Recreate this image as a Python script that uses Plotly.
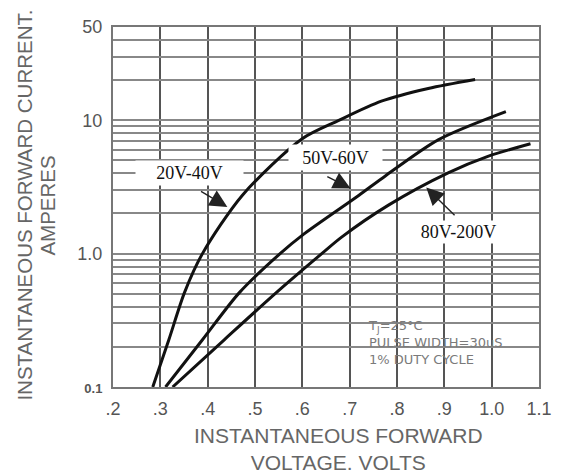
import math
import plotly.graph_objects as go

# ---------------- data ----------------
v_20_40 = [0.284, 0.318, 0.351, 0.389, 0.473, 0.599, 0.677, 0.767, 0.866, 0.965]
i_20_40 = [0.10, 0.226, 0.51, 1.0, 2.73, 7.24, 9.97, 13.9, 17.3, 20.2]

v_50_60 = [0.311, 0.389, 0.467, 0.553, 0.603, 0.719, 0.776, 0.887, 1.030]
i_50_60 = [0.10, 0.226, 0.51, 1.0, 1.40, 2.73, 3.84, 7.13, 11.6]

v_80_200 = [0.326, 0.435, 0.545, 0.641, 0.683, 0.782, 0.908, 0.992, 1.082]
i_80_200 = [0.10, 0.226, 0.51, 1.0, 1.33, 2.31, 4.03, 5.36, 6.66]

series_names = ["20V-40V", "50V-60V", "80V-200V"]

x_tickvals = [0.2, 0.3, 0.4, 0.5, 0.6, 0.7, 0.8, 0.9, 1.0, 1.1]
x_ticktext = [".2", ".3", ".4", ".5", ".6", ".7", ".8", ".9", "1.0", "1.1"]

y_tickvals = [0.1, 0.2, 0.3, 0.4, 0.5, 0.6, 0.7, 0.8, 0.9,
              1, 2, 3, 4, 5, 6, 7, 8, 9,
              10, 20, 30, 40, 50]
y_labelled = {0.1: "<b><span style='font-size:13px'>0.1</span></b>", 1: "1.0", 10: "10", 50: "50"}
y_ticktext = [y_labelled.get(v, "") for v in y_tickvals]

# arrow (tip voltage, tip current, tail voltage, tail current)
arrow_20_40 = (0.4416, 2.24, 0.3828, 2.97)
arrow_50_60 = (0.7021, 3.08, 0.6496, 3.83)
arrow_80_200 = (0.8618, 3.13, 0.9248, 1.89)

# ---------------- figure ----------------
SANS = "Liberation Sans, Arial, sans-serif"
SERIF = "Liberation Serif, Times New Roman, serif"

fig = go.Figure()
for v, i, name in [(v_20_40, i_20_40, series_names[0]),
                   (v_50_60, i_50_60, series_names[1]),
                   (v_80_200, i_80_200, series_names[2])]:
    fig.add_trace(go.Scatter(x=v, y=i, mode="lines", name=name,
                             line=dict(color="#111111", width=3, shape="spline", smoothing=0.8),
                             hoverinfo="skip"))

annotations = []
# curve labels
for text, cx, cy, w, h in [(series_names[0], 0.1787, 0.5945, 107, 24),
                           (series_names[1], 0.5222, 0.6365, 93, 25),
                           (series_names[2], 0.8110, 0.4300, 95, 22)]:
    annotations.append(dict(text=text, xref="paper", yref="paper", x=cx, y=cy,
                            xanchor="center", yanchor="middle", showarrow=False,
                            width=w, height=h, bgcolor="white", borderpad=0,
                            font=dict(family=SERIF, size=18, color="#111111")))
# arrows
for tx, ty, ax, ay in [arrow_20_40, arrow_50_60, arrow_80_200]:
    annotations.append(dict(text="", x=tx, y=math.log10(ty), xref="x", yref="y",
                            ax=ax, ay=math.log10(ay), axref="x", ayref="y",
                            showarrow=True, arrowhead=2, arrowsize=2.5, arrowwidth=1.4,
                            arrowcolor="#222222", standoff=0))
# condition text
annotations.append(dict(text="T<sub>J</sub>=25°C<br>PULSE WIDTH=30uS<br>1% DUTY CYCLE",
                        xref="paper", yref="paper", x=0.5935, y=0.123,
                        xanchor="left", yanchor="middle", align="left", showarrow=False,
                        font=dict(family="DejaVu Sans, sans-serif", size=13, color="#7a7a7a")))
# axis titles
annotations.append(dict(text="INSTANTANEOUS FORWARD<br>VOLTAGE. VOLTS", xref="paper", yref="paper",
                        x=0.530, y=-0.173, xanchor="center", yanchor="middle", showarrow=False,
                        font=dict(family=SANS, size=21, color="#666666")))
annotations.append(dict(text="INSTANTANEOUS FORWARD CURRENT.", xref="paper", yref="paper",
                        x=-0.208, y=0.505, xanchor="center", yanchor="middle", showarrow=False,
                        textangle=-90, font=dict(family=SANS, size=20.5, color="#666666")))
annotations.append(dict(text="AMPERES", xref="paper", yref="paper",
                        x=-0.154, y=0.505, xanchor="center", yanchor="middle", showarrow=False,
                        textangle=-90, font=dict(family=SANS, size=20.5, color="#666666")))

shapes = [dict(type="rect", xref="paper", yref="paper", x0=0.5654, x1=0.986, y0=0.027, y1=0.2,
               fillcolor="white", line=dict(width=0), layer="between")]

# the page adds an 8px body margin, so the figure is 8px smaller than the window
fig.update_layout(
    width=553, height=468,
    margin=dict(l=105, r=20, t=9, b=89),
    paper_bgcolor="white", plot_bgcolor="white",
    showlegend=False,
    annotations=annotations,
    shapes=shapes,
    xaxis=dict(range=[0.2, 1.1], tickvals=x_tickvals, ticktext=x_ticktext,
               showgrid=True, gridcolor="#555555", gridwidth=1.6, zeroline=False,
               showline=True, mirror=True, linecolor="#777777", linewidth=2,
               ticks="", ticklabelstandoff=4,
               tickfont=dict(family=SANS, size=18, color="#555555")),
    yaxis=dict(type="log", range=[-1, math.log10(50)], tickvals=y_tickvals, ticktext=y_ticktext,
               showgrid=True, gridcolor="#888888", gridwidth=1.6, zeroline=False,
               showline=True, mirror=True, linecolor="#777777", linewidth=2,
               ticks="", ticklabelstandoff=5,
               tickfont=dict(family=SANS, size=18, color="#555555")),
)

fig.write_html("out.html")
